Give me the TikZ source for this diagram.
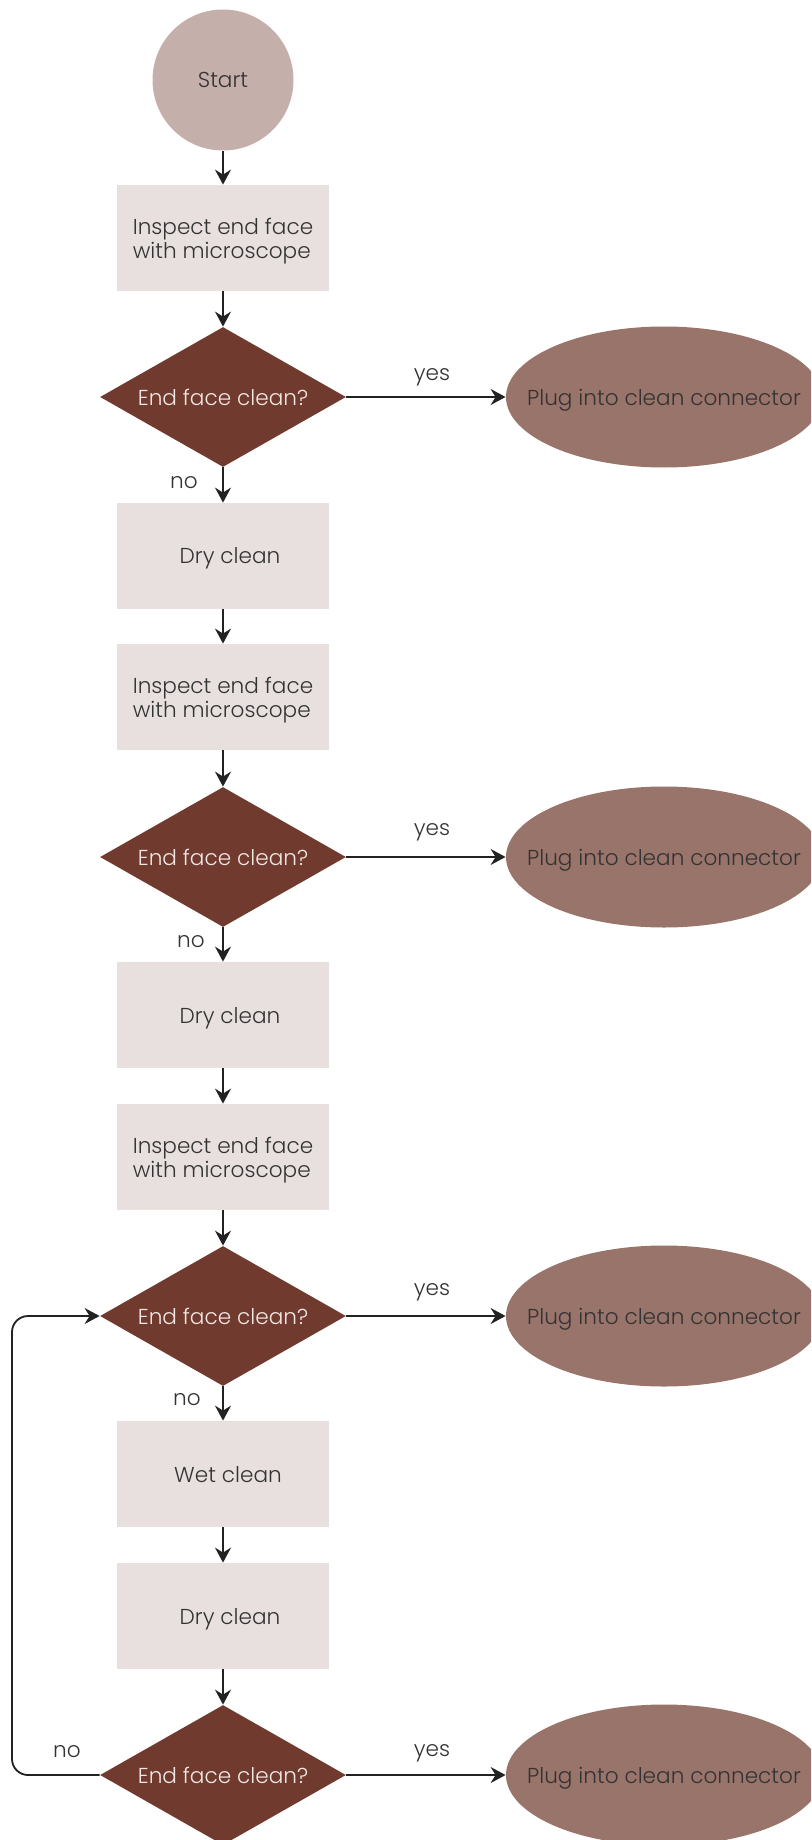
\documentclass[tikz,border=0pt]{standalone}
\usepackage{fontspec}
\setmainfont{Poppins Light}
\usepackage{tikz}
\usetikzlibrary{positioning,shapes.geometric,arrows.meta}

\definecolor{startfill}{HTML}{C4AFAA}
\definecolor{boxfill}{HTML}{E8E0DE}
\definecolor{decfill}{HTML}{713A2F}
\definecolor{endfill}{HTML}{99746A}
\definecolor{txtdark}{HTML}{333333}
\definecolor{txtlight}{HTML}{F2E8E4}
\definecolor{linedark}{HTML}{222222}

\tikzset{
	startnode/.style={circle,fill=startfill,minimum size=70.5pt,inner sep=0pt,text=txtdark},
	procbox/.style={rectangle,fill=boxfill,minimum width=106pt,minimum height=53pt,inner sep=0pt,text depth=0pt,text=txtdark,align=left},
	decnode/.style={diamond,fill=decfill,minimum width=123pt,minimum height=70pt,shape aspect=1.76,inner sep=0pt,inner xsep=-10pt,text=txtlight},
	endnode/.style={ellipse,fill=endfill,minimum width=158pt,minimum height=70.5pt,inner ysep=0pt,inner xsep=-35pt,text depth=0pt,text=txtdark},
	arr/.style={draw=linedark,line width=0.9pt,-{Stealth[length=7.5pt,width=8pt,inset=2.5pt]}},
	lbl/.style={text=txtdark}
}

\begin{document}
\begin{tikzpicture}[x=0.5pt,y=-0.5pt,font=\fontsize{10.8}{12}\selectfont]
				\useasboundingbox (0,0) rectangle (811,1840);
				\clip (0,0) rectangle (811,1840);
				% main column
				\node[startnode] (start) at (223,80) {Start};
				\node[procbox] (insp1) at (223,238) {Inspect end face\\with microscope};
				\node[decnode] (dec1) at (223,397) {End face clean?};
				\node[endnode] (plug1) at (664,397) {Plug into clean connector};
				\node[procbox] (dry1) at (223,556) {\hspace*{7pt}Dry clean};
				\node[procbox] (insp2) at (223,697) {Inspect end face\\with microscope};
				\node[decnode] (dec2) at (223,857) {End face clean?};
				\node[endnode] (plug2) at (664,857) {Plug into clean connector};
				\node[procbox] (dry2) at (223,1015) {\hspace*{7pt}Dry clean};
				\node[procbox] (insp3) at (223,1157) {Inspect end face\\with microscope};
				\node[decnode] (dec3) at (223,1316) {End face clean?};
				\node[endnode] (plug3) at (664,1316) {Plug into clean connector};
				\node[procbox] (wet) at (223,1474) {\hspace*{5pt}Wet clean};
				\node[procbox] (dry3) at (223,1616) {\hspace*{7pt}Dry clean};
				\node[decnode] (dec4) at (223,1775) {End face clean?};
				\node[endnode] (plug4) at (664,1775) {Plug into clean connector};
				\coordinate (loopx) at (12,1550);
				% connectors down
				\draw[arr] (start) -- (insp1);
				\draw[arr] (insp1) -- (dec1);
				\draw[arr] (dec1) -- (dry1);
				\draw[arr] (dry1) -- (insp2);
				\draw[arr] (insp2) -- (dec2);
				\draw[arr] (dec2) -- (dry2);
				\draw[arr] (dry2) -- (insp3);
				\draw[arr] (insp3) -- (dec3);
				\draw[arr] (dec3) -- (wet);
				\draw[arr] (wet) -- (dry3);
				\draw[arr] (dry3) -- (dec4);
				% yes branches
				\draw[arr] (dec1.east) -- (plug1.west);
				\draw[arr] (dec2.east) -- (plug2.west);
				\draw[arr] (dec3.east) -- (plug3.west);
				\draw[arr] (dec4.east) -- (plug4.west);
				% loop back
				\draw[arr,rounded corners=8pt] (dec4.west) -- (dec4.west -| loopx) -- (dec3.west -| loopx) -- (dec3.west);
				% labels
				\node[lbl] (yes1) at (432,377) {yes};
				\node[lbl] (yes2) at (432,832) {yes};
				\node[lbl] (yes3) at (432,1292) {yes};
				\node[lbl] (yes4) at (432,1753) {yes};
				\node[lbl] (no1) at (184,483) {no};
				\node[lbl] (no2) at (191,942) {no};
				\node[lbl] (no3) at (187,1400) {no};
				\node[lbl] (no4) at (67,1752) {no};
			\end{tikzpicture}
\end{document}
